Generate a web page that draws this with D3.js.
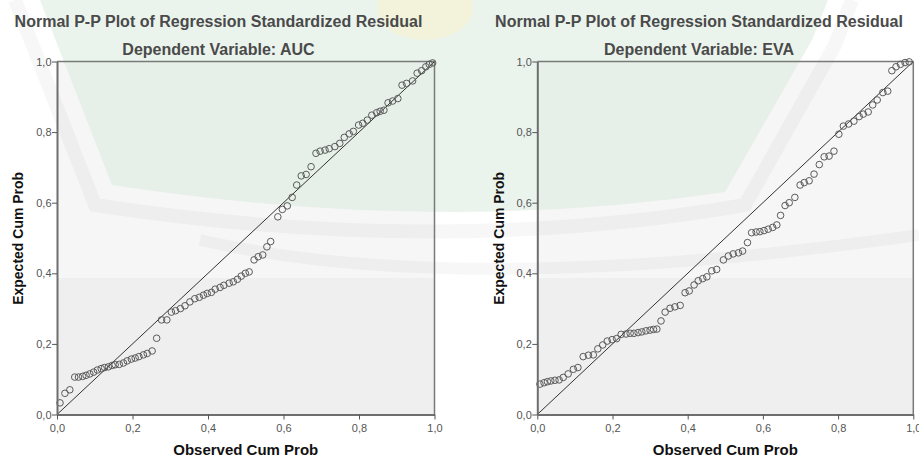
<!DOCTYPE html>
<html><head><meta charset="utf-8">
<script src="https://cdn.jsdelivr.net/npm/d3@7"></script>
<style>
html,body{margin:0;padding:0;background:#fff;}
svg{display:block;font-family:"Liberation Sans",Arial,sans-serif;}
</style></head>
<body><svg id="c" width="919" height="457"></svg>
<script>
// ---- data ----
const titles = ["Normal P-P Plot of Regression Standardized Residual","Normal P-P Plot of Regression Standardized Residual"];
const subtitles = ["Dependent Variable: AUC","Dependent Variable: EVA"];
const xLabel = "Observed Cum Prob";
const yLabel = "Expected Cum Prob";
const tickValues = [0,0.2,0.4,0.6,0.8,1.0];

const aucObserved = [0.008,0.021,0.034,0.047,0.057,0.068,0.077,0.087,0.097,0.107,0.117,0.126,0.136,0.146,0.154,0.165,0.176,0.186,0.197,0.207,0.217,0.229,0.239,0.252,0.264,0.277,0.291,0.303,0.314,0.327,0.339,0.352,0.365,0.377,0.388,0.398,0.409,0.419,0.432,0.442,0.456,0.467,0.478,0.488,0.499,0.509,0.522,0.533,0.545,0.556,0.566,0.585,0.597,0.610,0.623,0.635,0.647,0.660,0.673,0.686,0.697,0.710,0.721,0.736,0.749,0.761,0.774,0.785,0.799,0.810,0.822,0.834,0.847,0.856,0.866,0.877,0.889,0.903,0.914,0.926,0.942,0.954,0.966,0.977,0.986,0.995];
const aucExpected = [0.033,0.060,0.070,0.106,0.106,0.108,0.111,0.115,0.120,0.126,0.130,0.133,0.135,0.139,0.141,0.142,0.146,0.152,0.157,0.160,0.164,0.169,0.173,0.180,0.216,0.268,0.268,0.290,0.294,0.300,0.308,0.319,0.328,0.332,0.338,0.343,0.346,0.355,0.360,0.366,0.372,0.376,0.383,0.392,0.400,0.404,0.438,0.447,0.452,0.475,0.490,0.560,0.581,0.591,0.615,0.650,0.676,0.680,0.702,0.740,0.746,0.749,0.753,0.759,0.768,0.785,0.795,0.802,0.820,0.825,0.834,0.848,0.855,0.859,0.862,0.883,0.888,0.895,0.933,0.938,0.945,0.967,0.974,0.985,0.992,0.996];

const evaObserved = [0.007,0.018,0.027,0.036,0.047,0.058,0.069,0.082,0.096,0.108,0.122,0.136,0.149,0.161,0.174,0.186,0.199,0.211,0.223,0.236,0.247,0.257,0.268,0.278,0.289,0.300,0.309,0.318,0.329,0.340,0.353,0.366,0.380,0.393,0.404,0.417,0.428,0.440,0.451,0.464,0.477,0.495,0.508,0.521,0.535,0.546,0.559,0.570,0.582,0.592,0.603,0.614,0.626,0.637,0.647,0.659,0.670,0.685,0.699,0.710,0.723,0.736,0.750,0.763,0.776,0.789,0.802,0.814,0.828,0.842,0.856,0.867,0.880,0.892,0.904,0.919,0.932,0.943,0.954,0.966,0.978,0.989];
const evaExpected = [0.086,0.090,0.093,0.095,0.097,0.098,0.105,0.115,0.128,0.133,0.164,0.168,0.169,0.186,0.197,0.208,0.212,0.215,0.227,0.228,0.230,0.230,0.232,0.234,0.237,0.239,0.241,0.242,0.265,0.290,0.301,0.305,0.309,0.345,0.350,0.367,0.379,0.385,0.390,0.407,0.411,0.438,0.449,0.455,0.458,0.463,0.487,0.515,0.517,0.518,0.521,0.525,0.530,0.537,0.564,0.592,0.600,0.615,0.650,0.657,0.662,0.681,0.708,0.730,0.732,0.746,0.794,0.817,0.823,0.831,0.844,0.851,0.857,0.877,0.891,0.912,0.916,0.974,0.985,0.992,0.997,0.999];

const panels = [
  {title: titles[0], sub: subtitles[0], obs: aucObserved, exp: aucExpected, x0: 57, x1: 434.5, tcx: 218.5, ylx: 18.3},
  {title: titles[1], sub: subtitles[1], obs: evaObserved, exp: evaExpected, x0: 537.3, x1: 913.3, tcx: 699, ylx: 498.5}
];
const yTop = 61.5, yBot = 414.5;

const svg = d3.select("#c");
const fmt = v => d3.format(".1f")(v).replace(".", ",");

// ---- plot backgrounds ----
panels.forEach(p => {
  svg.append("rect").attr("x", p.x0).attr("y", yTop).attr("width", p.x1 - p.x0).attr("height", yBot - yTop).attr("fill", "#efefef");
});

// ---- faint watermark (background decoration) ----
const wm = svg.append("g").attr("pointer-events", "none");
wm.append("rect").attr("x", 0).attr("y", 0).attr("width", 919).attr("height", 278).attr("fill", "#ffffff").attr("opacity", 0.45);
wm.append("path")
  .attr("d", "M40,0 L112,185 Q440,235 725,192 L812,40 L828,0 Z")
  .attr("fill", "#d6eadc").attr("opacity", 0.5);
wm.append("path")
  .attr("d", "M15,0 L95,205 Q440,258 745,205 L835,45 L852,0")
  .attr("fill", "none").attr("stroke", "#000").attr("stroke-opacity", 0.03).attr("stroke-width", 14);
wm.append("path")
  .attr("d", "M200,240 Q460,300 919,235")
  .attr("fill", "none").attr("stroke", "#000").attr("stroke-opacity", 0.03).attr("stroke-width", 12);
wm.append("ellipse").attr("cx", 425).attr("cy", 8).attr("rx", 48).attr("ry", 32).attr("fill", "#fff3bd").attr("opacity", 0.4);

// ---- panels ----
panels.forEach(p => {
  const x = d3.scaleLinear().domain([0, 1]).range([p.x0, p.x1]);
  const y = d3.scaleLinear().domain([0, 1]).range([yBot, yTop]);
  const g = svg.append("g");

  // frame (top / right)
  g.append("line").attr("x1", x(0)).attr("x2", x(1)).attr("y1", y(1)).attr("y2", y(1)).attr("stroke", "#7a7a7a").attr("stroke-width", 1.3);
  g.append("line").attr("x1", x(1)).attr("x2", x(1)).attr("y1", y(1)).attr("y2", y(0)).attr("stroke", "#7a7a7a").attr("stroke-width", 1.5);

  // reference line
  g.append("line").attr("x1", x(0)).attr("y1", y(0)).attr("x2", x(1)).attr("y2", y(1)).attr("stroke", "#333").attr("stroke-width", 1);

  // points
  g.append("g").selectAll("circle").data(p.obs.map((v, i) => [v, p.exp[i]])).join("circle")
    .attr("cx", d => x(d[0])).attr("cy", d => y(d[1])).attr("r", 3.3)
    .attr("fill", "none").attr("stroke", "#5a5a5a").attr("stroke-width", 1);

  // axes
  const ax = g.append("g").attr("transform", `translate(0,${yBot})`)
    .call(d3.axisBottom(x).tickValues(tickValues).tickFormat(fmt).tickSize(5).tickSizeOuter(0));
  const ay = g.append("g").attr("transform", `translate(${p.x0},0)`)
    .call(d3.axisLeft(y).tickValues(tickValues).tickFormat(fmt).tickSize(5).tickSizeOuter(0));
  [ax, ay].forEach(a => {
    a.select(".domain").attr("stroke", "#6e6e6e").attr("stroke-width", 2);
    a.selectAll(".tick line").attr("stroke", "#555").attr("stroke-width", 1);
    a.selectAll(".tick text").attr("fill", "#555").attr("font-size", 11).attr("font-family", "\"Liberation Sans\",Arial,sans-serif");
  });
  ax.selectAll(".tick text").attr("dy", "0.72em").attr("y", 9.5);
  ay.selectAll(".tick text").attr("x", -5.5);

  // titles
  svg.append("text").attr("x", p.tcx).attr("y", 27).attr("text-anchor", "middle")
    .attr("font-size", 16).attr("font-weight", "bold").attr("fill", "#4a4a4a").text(p.title);
  svg.append("text").attr("x", p.tcx).attr("y", 54.5).attr("text-anchor", "middle")
    .attr("font-size", 16).attr("font-weight", "bold").attr("fill", "#4a4a4a").text(p.sub);

  // axis labels
  svg.append("text").attr("x", (p.x0 + p.x1) / 2).attr("y", 455).attr("text-anchor", "middle")
    .attr("font-size", 15).attr("font-weight", "bold").attr("fill", "#111").text(xLabel);
  svg.append("text").attr("transform", `translate(${p.ylx + 5},${(171.7 + 305) / 2}) rotate(-90)`)
    .attr("text-anchor", "middle").attr("font-size", 14).attr("font-weight", "bold").attr("fill", "#111").text(yLabel);
});
</script>
</body></html>
